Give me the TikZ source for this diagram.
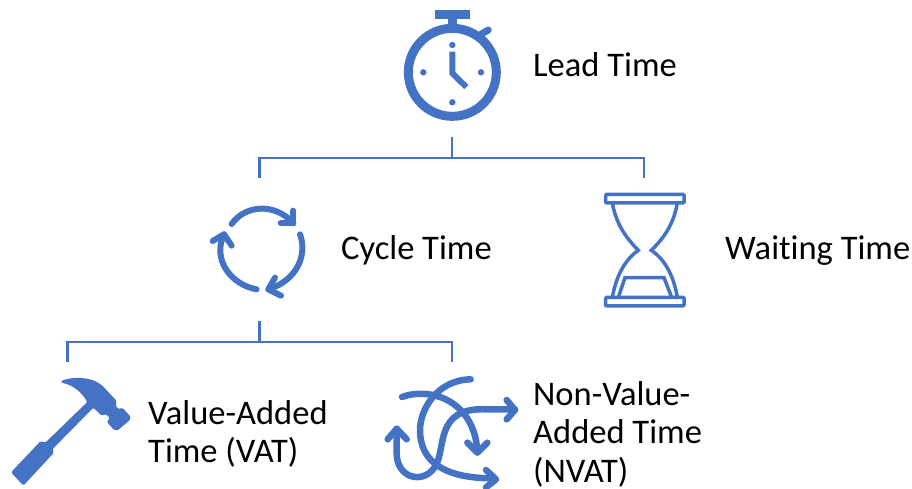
\documentclass[tikz,border=0pt]{standalone}
\usepackage{fontspec}
\setmainfont[Ligatures=NoCommon]{Carlito}
\definecolor{blu}{HTML}{4472C4}
\tikzset{
  lab/.style={font=\fontsize{34.5}{38.5}\selectfont, text=black, anchor=west, inner sep=0pt, align=left},
  conn/.style={draw=blu, line width=2.8pt},
  ico/.style={draw=blu, line cap=round, line join=round},
  icof/.style={fill=blu, draw=none}
}
\begin{document}
\begin{tikzpicture}[x=1pt,y=-1pt]
\useasboundingbox (0,0) rectangle (912,489);
% Stopwatch
\begin{scope}[shift={(390,0)},x=0.3333pt,y=-0.3333pt]
\draw[blu,line width=9pt] (187,217) circle (44pt);
\fill[blu] (135,30) rectangle (240,57);
\fill[blu] (175,57) rectangle (200,85);
\draw[ico,line width=7pt] (268,106) -- (295,90);
\fill[blu] (187,135) circle (3.2pt) (100,217) circle (3.2pt) (273,217) circle (3.2pt) (187,307) circle (3.2pt);
\draw[blu,line width=6pt,line join=miter] (187,155) -- (187,220) -- (229,261);
\end{scope}
% Cycle
\begin{scope}[shift={(200,195)},x=0.3333pt,y=-0.3333pt]
\draw[ico,line width=6pt] (95,87) .. controls (135,30) and (225,22) .. (280,85);
\draw[ico,line width=6pt] (280,47) -- (280,85) -- (242,85);
\draw[ico,line width=6pt] (300,118) .. controls (322,175) and (295,255) .. (205,283);
\draw[ico,line width=6pt] (225,248) -- (205,283) -- (243,302);
\draw[ico,line width=6pt] (170,283) .. controls (95,270) and (35,195) .. (72,118);
\draw[ico,line width=6pt] (38,138) -- (72,118) -- (95,152);
\end{scope}
% Hourglass
\begin{scope}[shift={(590,180)},x=0.3333pt,y=-0.3333pt]
\draw[blu,line width=3.5pt,rounded corners=1pt] (47,43) rectangle (282,69);
\draw[blu,line width=3.5pt,rounded corners=1pt] (47,352) rectangle (282,378);
\draw[blu,line width=3.5pt] (67,69) .. controls (80,140) and (115,180) .. (145,211) .. controls (110,235) and (80,280) .. (67,352);
\draw[blu,line width=3.5pt] (262,69) .. controls (250,140) and (215,180) .. (184,211) .. controls (220,235) and (250,280) .. (262,352);
\draw[blu,line width=3.5pt] (85,352) -- (105,293) -- (222,293) -- (245,352);
\end{scope}
% Hammer
\begin{scope}[shift={(0,370)},x=0.3333pt,y=-0.3333pt]
\fill[blu,rounded corners=1.5pt] (184,33) .. controls (215,20) and (275,18) .. (310,50)
  -- (350,93) -- (347,106) -- (355,118) -- (367,113) -- (392,140) -- (390,150) -- (352,182) -- (342,180) -- (320,155)
  -- (330,145) -- (318,132) -- (305,137) -- (280,113)
  -- (157,238) -- (162,248) -- (70,347) -- (33,307) -- (122,213) -- (136,218)
  -- (262,96) .. controls (240,60) and (215,45) .. (184,38) -- cycle;
\end{scope}
% Tangle
\begin{scope}[shift={(380,370)},x=0.3333pt,y=-0.3333pt]
\draw[ico,line width=6.5pt] (66,81) .. controls (150,50) and (280,90) .. (292,240);
\draw[ico,line width=6.5pt] (262,218) -- (292,248) -- (322,218);
\draw[ico,line width=6.5pt] (272,28) .. controls (170,30) and (120,120) .. (120,180) .. controls (120,280) and (200,325) .. (340,325);
\draw[ico,line width=6.5pt] (318,300) -- (348,328) -- (318,352);
\draw[ico,line width=6.5pt] (405,118) -- (320,118) .. controls (160,110) and (200,240) .. (165,290) .. controls (130,345) and (50,325) .. (50,250) -- (50,180);
\draw[ico,line width=6.5pt] (380,90) -- (405,120) -- (380,148);
\draw[ico,line width=6.5pt] (23,208) -- (50,176) -- (80,208);
\end{scope}
% Connectors
\coordinate (leadb) at (452,137);
\coordinate (bus1) at (452,158);
\coordinate (cyct) at (259.5,178);
\coordinate (waitt) at (644,178);
\draw[conn] (leadb) -- (bus1);
\draw[conn] (cyct) |- (bus1) -| (waitt);
\coordinate (cycb) at (259.5,321);
\coordinate (bus2) at (259.5,342);
\coordinate (vatt) at (67.5,362);
\coordinate (nvatt) at (452,362);
\draw[conn] (cycb) -- (bus2);
\draw[conn] (vatt) |- (bus2) -| (nvatt);
% Labels
\node[lab] (lt) at (533,65) {Lead Time};
\node[lab] (ct) at (341,250.5) {Cycle Time};
\node[lab] (wt) at (725,250.5) {Waiting Time};
\node[lab] (vat) at (148,434) {Value-Added\\Time (VAT)};
\node[lab] (nvat) at (533,434) {Non-Value-\\Added Time\\(NVAT)};
\end{tikzpicture}
\end{document}
